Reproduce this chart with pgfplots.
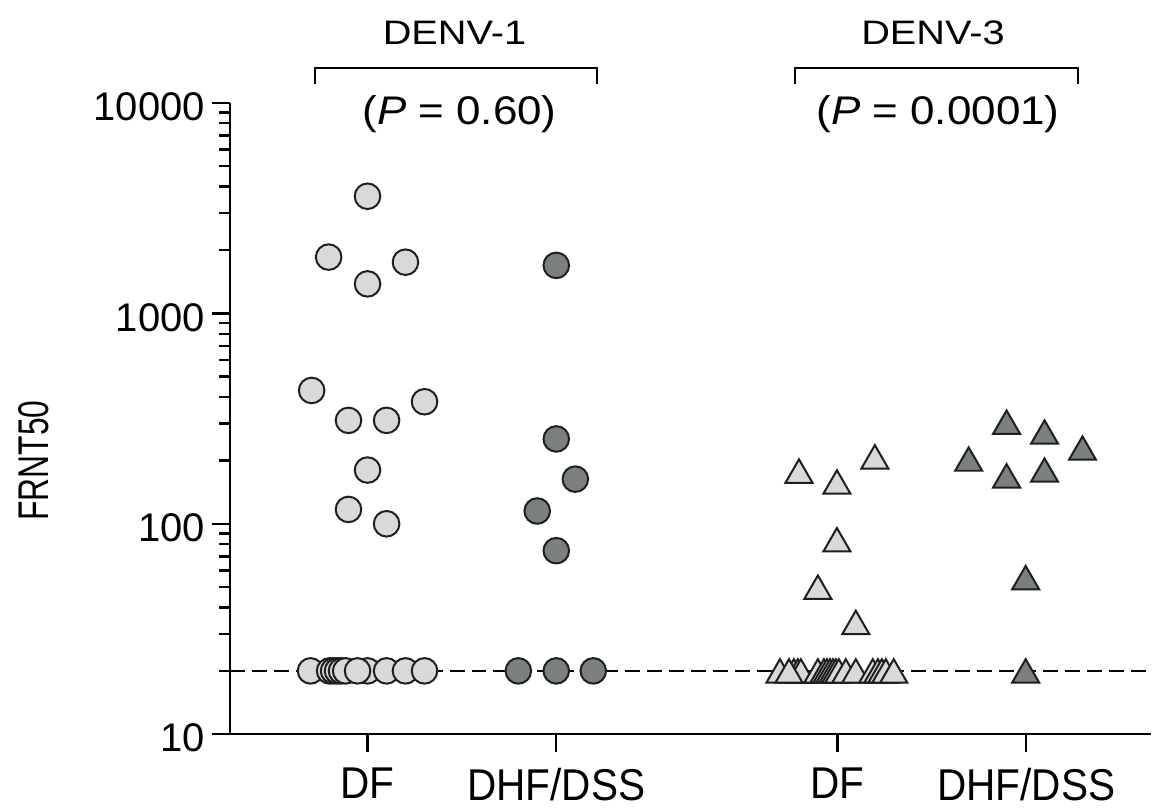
\documentclass[border=0pt]{standalone}
\usepackage{fontspec}
\setmainfont{Liberation Sans}
\usepackage{graphicx}
\usepackage{pgfplots}
\pgfplotsset{compat=1.18}

\definecolor{lightfill}{HTML}{D9D9D9}
\definecolor{darkfill}{HTML}{7A8080}
\definecolor{edge}{HTML}{1E1E1E}

\pgfplotsset{
  circ/.style={only marks, mark=*, mark size=6.4pt,
    mark options={fill=#1, draw=edge, line width=1pt}},
  tri/.style={only marks, mark=triangle*, mark size=7.8pt,
    mark options={fill=#1, draw=edge, line width=1pt, yshift=-1.95pt}},
}

\begin{document}
\begin{tikzpicture}
\begin{axis}[
  scale only axis, width=461pt, height=316pt,
  at={(0,0)}, anchor=south west,
  ymode=log, ymin=10, ymax=10000,
  xmin=0.27, xmax=5.15,
  axis x line=bottom, axis y line=left,
  axis line style={-, line width=1.2pt, black},
  clip=false,
  ytick={10,100,1000,10000}, yticklabels={10,100,1000,10000},
  minor ytick={20,30,40,50,60,70,80,90,200,300,400,500,600,700,800,900,2000,3000,4000,5000,6000,7000,8000,9000},
  tick align=outside, major tick length=9pt, minor tick length=5.5pt,
  tick style={black, line width=1.2pt},
  xtick={1,2,3.49,4.49},
  xticklabels={{\scalebox{0.91}[1]{DF}},{\scalebox{0.91}[1]{DHF/DSS}},{\scalebox{0.91}[1]{DF}},{\scalebox{0.91}[1]{DHF/DSS}}},
  yticklabel style={font=\fontsize{20}{24}\selectfont, yshift=-2pt},
  xticklabel style={font=\fontsize{22.3}{26}\selectfont, yshift=-4.5pt},
]
% detection limit
\addplot[black, line width=1.1pt, dash pattern=on 7.5pt off 3.5pt] coordinates {(0.27,20) (5.15,20)};

% DENV-1, DF
\addplot[circ=lightfill] coordinates {
  (1.000,3600) (0.794,1850) (1.201,1750) (1.000,1380)
  (0.704,430) (0.899,310) (1.101,310) (1.302,380)
  (1.000,180) (0.899,117) (1.101,100)
};
\addplot[circ=lightfill] coordinates {
  (0.698,20) (0.799,20) (0.820,20) (0.841,20) (0.862,20) (0.884,20)
  (1.000,20) (0.947,20) (1.101,20) (1.201,20) (1.302,20)
};
% DENV-1, DHF/DSS
\addplot[circ=darkfill] coordinates {
  (2.000,1690) (2.000,253) (2.101,163) (1.899,115) (2.000,74.5)
  (1.799,20) (2.000,20) (2.196,20)
};
% DENV-3, DF
\addplot[tri=lightfill] coordinates {
  (3.286,178) (3.487,158) (3.688,208) (3.487,84) (3.386,50) (3.587,34)
};
\addplot[tri=lightfill] coordinates {
  (3.185,20) (3.259,20) (3.280,20) (3.296,20) (3.233,20)
  (3.386,20) (3.418,20) (3.434,20) (3.450,20) (3.466,20) (3.481,20) (3.497,20) (3.534,20)
  (3.587,20) (3.677,20) (3.704,20) (3.725,20) (3.746,20) (3.788,20)
};
% DENV-3, DHF/DSS
\addplot[tri=darkfill] coordinates {
  (4.185,203) (4.386,304) (4.587,273) (4.788,229)
  (4.386,169) (4.587,180) (4.487,55.5) (4.487,20)
};
\end{axis}

% group brackets and p-values
\draw[line width=1pt, black] (42.5pt,325.5pt) -- (42.5pt,333.5pt) -- (184pt,333.5pt) -- (184pt,325.5pt);
\draw[line width=1pt, black] (283pt,325.5pt) -- (283pt,333.5pt) -- (424.5pt,333.5pt) -- (424.5pt,325.5pt);
\node[anchor=base, inner sep=0pt] at (112.5pt,345pt) {\fontsize{17}{20}\selectfont\scalebox{1.17}[1]{DENV-1}};
\node[anchor=base, inner sep=0pt] at (352pt,345pt) {\fontsize{17}{20}\selectfont\scalebox{1.17}[1]{DENV-3}};
\node[anchor=base, inner sep=0pt] at (115pt,305pt) {\fontsize{20}{24}\selectfont\scalebox{1.1}[1]{(\textit{P} = 0.60)}};
\node[anchor=base, inner sep=0pt] at (354.5pt,305pt) {\fontsize{20}{24}\selectfont\scalebox{1.1}[1]{(\textit{P} = 0.0001)}};

% y axis label
\node[rotate=90, inner sep=0pt] at (-98pt,137pt) {\fontsize{21.5}{25}\selectfont\scalebox{0.74}[1]{FRNT50}};

\path (-115pt,-36.5pt) rectangle (461pt,367.5pt);
\end{tikzpicture}
\end{document}
